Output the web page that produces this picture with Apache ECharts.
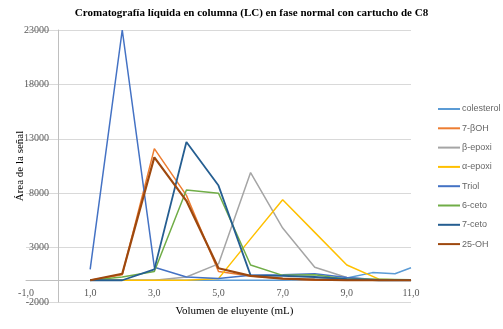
<!DOCTYPE html>
<html>
<head>
<meta charset="utf-8">
<script src="https://cdn.jsdelivr.net/npm/echarts@6/dist/echarts.min.js"></script>
<style>
  html, body { margin: 0; padding: 0; background: #fff; }
  #chart { width: 503px; height: 329px; }
</style>
</head>
<body>
<div id="chart"></div>
<script>
// volumen de eluyente (mL)
const volumen = [1, 2, 3, 4, 5, 6, 7, 8, 9, 10, 11]
const volumenColesterol = [1, 2, 3, 4, 5, 6, 7, 8, 9, 9.8, 10.5, 11]

// área de la señal por compuesto
const colesterol = [0, 0, 0, 0, 0, 0, 0, 100, 200, 700, 600, 1150]
const sieteBOH = [0, 500, 12100, 7800, 800, 400, 150, 0, 0, 0, 0]
const betaEpoxi = [0, 0, 0, 300, 1500, 9900, 4800, 1200, 250, 0, 0]
const alfaEpoxi = [0, 0, 0, 0, 150, 3800, 7400, 4400, 1400, 100, 0]
const triol = [1000, 23000, 1200, 300, 150, 450, 500, 600, 250, 50, 0]
const seisCeto = [0, 300, 800, 8300, 8000, 1400, 450, 500, 100, 100, 50]
const sieteCeto = [0, 0, 1000, 12700, 8700, 450, 400, 300, 100, 0, 0]
const oh25 = [0, 600, 11300, 7300, 1100, 400, 150, 50, 0, 0, 0]

const yTicks = [-2000, 3000, 8000, 13000, 18000, 23000]
const xMin = -1, xMax = 11

const serif = 'Liberation Serif'

// area del grafico (px)
const gLeft = 26, gRight = 92, gTop = 30, gBottom = 27
const W = 503, H = 329

function pares(xs, ys) {
  return ys.map((v, i) => [xs[i], v])
}

function linea(nombre, xs, ys, color, ancho) {
  return {
    name: nombre,
    type: 'line',
    symbol: 'none',
    data: pares(xs, ys),
    lineStyle: { color: color, width: ancho },
    itemStyle: { color: color }
  }
}

// los ejes se cruzan en cero, como en Excel
const plotW = W - gLeft - gRight
const plotH = H - gTop - gBottom
const yMin = yTicks[0], yMax = yTicks[yTicks.length - 1]
const offX = -plotW * (0 - xMin) / (xMax - xMin)
const offY = -plotH * (0 - yMin) / (yMax - yMin)

const chart = echarts.init(document.getElementById('chart'))

const option = {
  animation: false,
  backgroundColor: '#fff',
  title: {
    text: 'Cromatografía líquida en columna (LC) en fase normal con cartucho de C8',
    left: 'center',
    top: 3,
    textStyle: { fontFamily: serif, fontSize: 11, fontWeight: 'bold', color: '#000' }
  },
  grid: { left: gLeft, right: gRight, top: gTop, bottom: gBottom, outerBoundsMode: 'none' },
  legend: {
    orient: 'vertical',
    left: 433,
    top: 98,
    icon: 'rect',
    itemWidth: 22,
    itemHeight: 2,
    itemGap: 7.3,
    textStyle: { fontFamily: 'Liberation Sans', fontSize: 9, lineHeight: 12, color: '#666', padding: [0, 0, 0, -3] },
    data: ['colesterol', '7-βOH', 'β-epoxi', 'α-epoxi', 'Triol', '6-ceto', '7-ceto', '25-OH']
  },
  xAxis: {
    type: 'value',
    min: xMin,
    max: xMax,
    interval: 2,
    offset: offY,
    name: 'Volumen de eluyente (mL)',
    nameLocation: 'middle',
    nameGap: 25,
    nameMoveOverlap: false,
    nameTextStyle: { fontFamily: serif, fontSize: 11, color: '#000', padding: [0, 0, 0, 32] },
    axisLine: { onZero: false, lineStyle: { color: '#BFBFBF' } },
    axisTick: { show: false },
    splitLine: { show: false },
    axisLabel: {
      fontFamily: serif, fontSize: 10, color: '#595959', margin: 8,
      formatter: v => v.toFixed(1).replace('.', ',')
    }
  },
  yAxis: {
    type: 'value',
    min: yMin,
    max: yMax,
    interval: 5000,
    offset: offX,
    name: 'Área de la señal',
    nameLocation: 'middle',
    nameGap: 32,
    nameMoveOverlap: false,
    nameTextStyle: { fontFamily: serif, fontSize: 11, color: '#000' },
    axisLine: { onZero: false, lineStyle: { color: '#BFBFBF' } },
    axisTick: { show: true, length: 5, lineStyle: { color: '#D9D9D9' } },
    splitLine: { lineStyle: { color: '#D9D9D9' } },
    axisLabel: {
      fontFamily: serif, fontSize: 10, color: '#595959', margin: 9,
      formatter: v => String(v)
    }
  },
  series: [
    linea('colesterol', volumenColesterol, colesterol, '#5B9BD5', 1.5),
    linea('7-βOH', volumen, sieteBOH, '#ED7D31', 1.5),
    linea('β-epoxi', volumen, betaEpoxi, '#A5A5A5', 1.5),
    linea('α-epoxi', volumen, alfaEpoxi, '#FFC000', 1.5),
    linea('Triol', volumen, triol, '#4472C4', 1.5),
    linea('6-ceto', volumen, seisCeto, '#70AD47', 1.5),
    linea('7-ceto', volumen, sieteCeto, '#255E91', 1.8),
    linea('25-OH', volumen, oh25, '#9E480E', 2.2)
  ]
}

chart.setOption(option)
</script>
</body>
</html>
